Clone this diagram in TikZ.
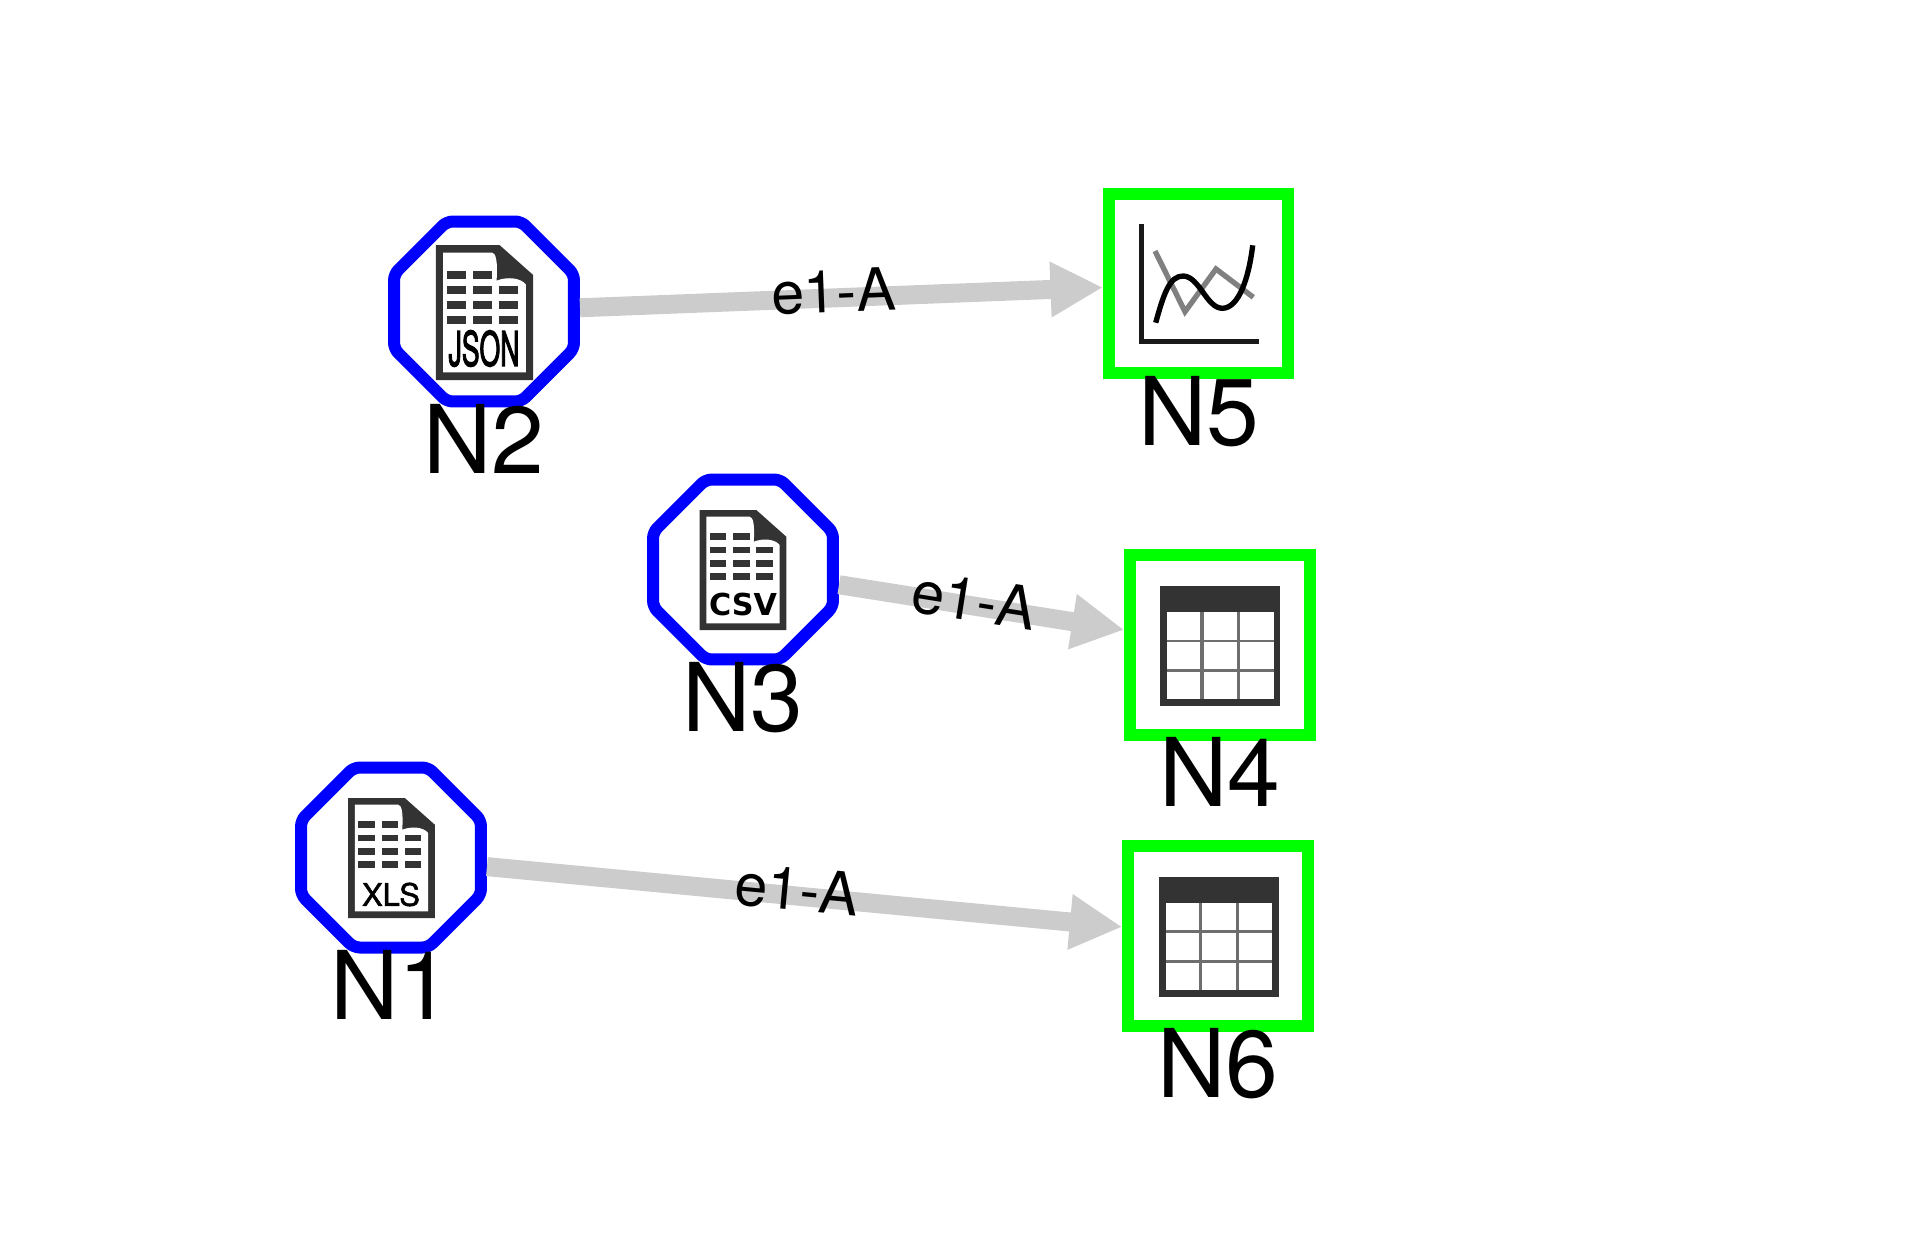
\documentclass[tikz,border=0pt]{standalone}
\usepackage{fontspec}
\setmainfont{TeX Gyre Heros}
\newfontfamily\iconfont{DejaVu Sans}
\newfontfamily\xlsfont[FakeBold=1.6]{TeX Gyre Heros}
\newfontfamily\jsonfont[FakeBold=3]{TeX Gyre Heros}
\usetikzlibrary{arrows.meta,shapes.geometric}
\definecolor{icondark}{HTML}{333333}
\definecolor{cellline}{HTML}{6E6E6E}
\definecolor{edgegray}{HTML}{CCCCCC}
\tikzset{
    srcnode/.style={regular polygon, regular polygon sides=8, draw=blue, fill=white, line width=.24cm, minimum size=3.897cm, rounded corners=.12cm, inner sep=0pt},
    tgtnode/.style={rectangle, draw=green, fill=white, line width=.24cm, minimum size=3.59cm, inner sep=0pt},
    namelabel/.style={anchor=base, inner sep=0pt, font=\fontsize{54}{60}\selectfont},
    flow/.style={draw=edgegray, line width=.38cm, -{Triangle[length=1.05cm, width=1.04cm]}},
    flowlabel/.style={sloped, anchor=base, inner sep=0pt, font=\fontsize{33.6}{36}\selectfont},
    filedoc/.pic={
        \fill[icondark](-43.3,-60)--(13.3,-60)--(43.3,-33.3)--(43.3,60)--(-43.3,60)--cycle;
        \fill[white](-36.7,-53.3)--(6.7,-53.3)..controls (10,-53.3) and (12,-45)..(10.7,-28.3)..controls (20,-32) and (32,-31)..(36.7,-25)--(36.7,53.3)--(-36.7,53.3)--cycle;
        \foreach \x in {-33.3,-10,13}
            \foreach \y in {-23.3,-10,3.3}
                \fill[icondark](\x,\y)rectangle(\x+16.7,\y+6.7);
        \foreach \x in {-33.3,-10}
            \fill[icondark](\x,-36.7)rectangle(\x+16.7,-30);
    },
    tableicon/.pic={
        \fill[icondark](-60,-60)rectangle(60,60);
        \fill[cellline](-53.3,-33.7)rectangle(53.3,53.3);
        \foreach \x in {-53.3,-16.6,20}
            \foreach \y in {-33.7,-3.9,26}
                \fill[white](\x,\y)rectangle(\x+33.4,\y+27.2);
    },
    charticon/.pic={
        \draw[line width=.107cm, color=black!90](-57,-59.7)--(-57,57.6)--(60,57.6);
        \draw[line width=.107cm, color=black!50](-43.7,-32.7)--(-13.7,28)--(17.3,-14.7)--(54.6,13.6);
        \draw[line width=.107cm](-43,39)..controls (-35,10) and (-29,-8)..(-15.4,-7.7)..controls (1,-7) and (8,25)..(24,24.6)..controls (40,24) and (50,-5)..(54,-38.4);
    }
}
\begin{document}
\begin{tikzpicture}[x=.02cm, y=-.02cm]
\useasboundingbox(0,0)rectangle(1920,1234);
\node[srcnode](n1)at(391,857.5){};
\node[srcnode](n2)at(484,311.5){};
\node[srcnode](n3)at(743,569.5){};
\node[tgtnode](n4)at(1220,645){};
\node[tgtnode](n5)at(1198.7,283.7){};
\node[tgtnode](n6)at(1218,936){};
\draw[flow](n2)--(n5)node[flowlabel, pos=.485, yshift=-.29cm](a2){e1-A};
\draw[flow](n3)--(n4)node[flowlabel, pos=.47, yshift=-.31cm](a3){e1-A};
\draw[flow](n1)--(n6)node[flowlabel, pos=.487, yshift=-.29cm](a1){e1-A};
\pic at(391.5,858){filedoc};
\pic[scale=1.125] at(484.5,312.5){filedoc};
\pic at(743,570){filedoc};
\node[font=\xlsfont\fontsize{17.6}{20}\selectfont, inner sep=0pt](t1)at([yshift=-.74cm]n1.center){XLS};
\node[font=\jsonfont\fontsize{27}{30}\selectfont, xscale=.56, transform shape, inner sep=0pt](t2)at([yshift=-.74cm]n2.center){JSON};
\node[font=\iconfont\bfseries\fontsize{17.2}{20}\selectfont, inner sep=0pt](t3)at([yshift=-.7cm]n3.center){CSV};
\pic at(1220.2,646){tableicon};
\pic at(n5){charticon};
\pic at(1218.8,936.5){tableicon};
\foreach \i in {1,...,6}
    \node[namelabel](l\i)at([yshift=-3.24cm]n\i.center){N\i};
\end{tikzpicture}
\end{document}
